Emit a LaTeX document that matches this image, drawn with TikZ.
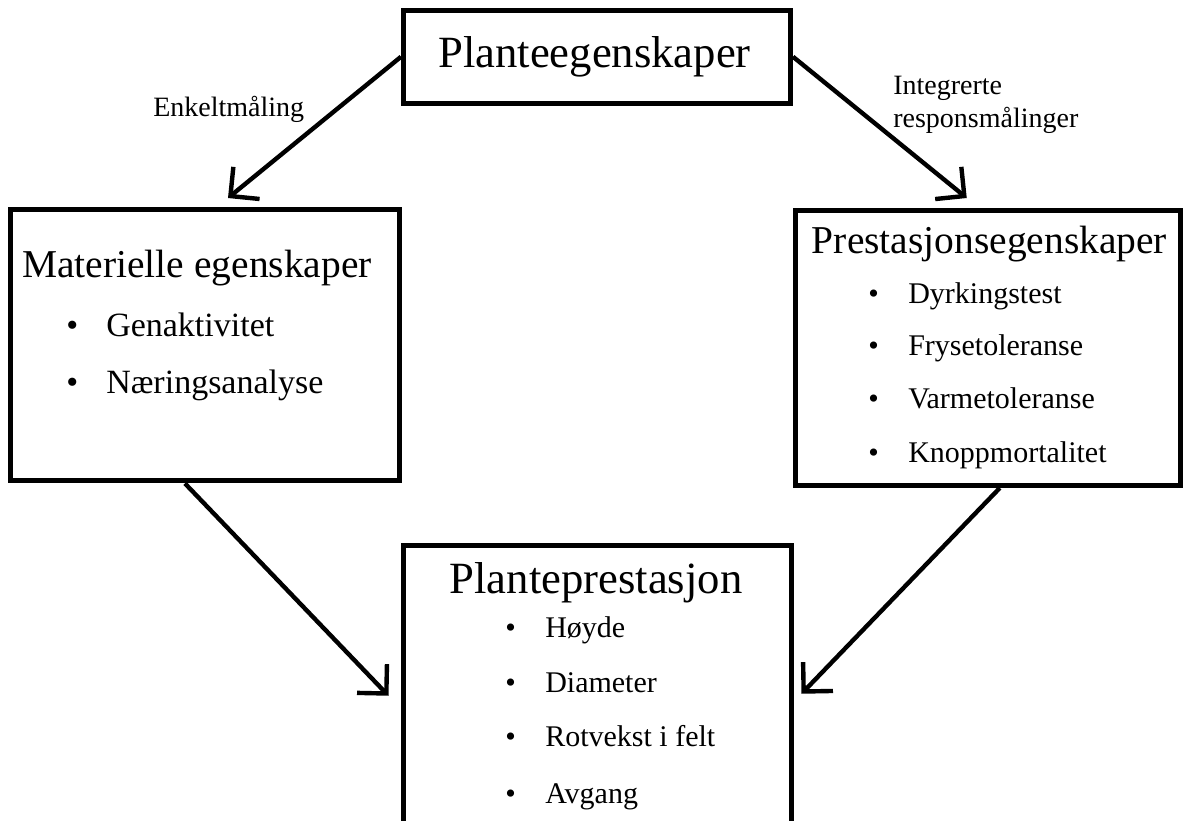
\documentclass[tikz,border=0pt]{standalone}
\usepackage{fontspec}
\setmainfont{Liberation Serif}
\usetikzlibrary{arrows.meta}

\newcommand{\bpt}[1]{\makebox[30pt][l]{\textbullet}#1}

\begin{document}
\begin{tikzpicture}[x=0.75pt, y=-0.75pt,
    box/.style={draw, line width=3.75pt, inner sep=0pt},
    ttl/.style={anchor=base, inner sep=0pt, font=\fontsize{33.5}{38}\selectfont},
    sttl/.style={ttl, font=\fontsize{29.6}{34}\selectfont},
    itm/.style={anchor=base west, inner sep=0pt, font=\fontsize{22.5}{27}\selectfont},
    lbl/.style={anchor=base west, inner sep=0pt, align=left, font=\fontsize{21}{24.5}\selectfont},
    link/.style={line width=3.3pt, -{Straight Barb[sharp, angle=90:22pt]}}]
  \useasboundingbox (0,0) rectangle (1183,821);
  \clip (0,0) rectangle (1183,821);

  \node[box, minimum width=290.25pt, minimum height=70.1pt] (top) at (597,56.75) {};
  \node[box, minimum width=291.5pt, minimum height=203.6pt] (mat) at (205,345.25) {};
  \node[box, minimum width=288.4pt, minimum height=206.25pt] (pres) at (987.75,348) {};
  \node[box, minimum width=291pt, minimum height=228.4pt] (perf) at (597,697.75) {};

  \node[ttl] (topt) at (594.5,67) {Planteegenskaper};
  \node[sttl] (matt) at (197,277) {Materielle egenskaper};
  \node[sttl] (prest) at (989.5,253) {Prestasjonsegenskaper};
  \node[ttl] (perft) at (596,593) {Planteprestasjon};

  \node[itm, font=\fontsize{25.5}{30}\selectfont] (mat1) at (66,336) {\bpt{Genaktivitet}};
  \node[itm, font=\fontsize{25.5}{30}\selectfont] (mat2) at (66,393) {\bpt{Næringsanalyse}};

  \node[itm] (pres1) at (868,303) {\bpt{Dyrkingstest}};
  \node[itm] (pres2) at (868,355) {\bpt{Frysetoleranse}};
  \node[itm] (pres3) at (868,408) {\bpt{Varmetoleranse}};
  \node[itm] (pres4) at (868,462) {\bpt{Knoppmortalitet}};

  \node[itm] (perf1) at (505,637) {\bpt{Høyde}};
  \node[itm] (perf2) at (505,692) {\bpt{Diameter}};
  \node[itm] (perf3) at (505,746) {\bpt{Rotvekst i felt}};
  \node[itm] (perf4) at (505,803) {\bpt{Avgang}};

  \node[lbl] (single) at (153,116) {Enkeltmåling};
  \node[lbl] (integ) at (893,127) {Integrerte\\responsmålinger};

  \draw[link] (top.west) -- ([shift={(23,-9)}]mat.north);
  \draw[link] (top.east) -- ([shift={(-21,-10)}]pres.north);
  \draw[link] ([shift={(-20,0)}]mat.south) -- ([shift={(-12,-2)}]perf.west);
  \draw[link] ([shift={(12,0)}]pres.south) -- ([shift={(8,-4)}]perf.east);
\end{tikzpicture}
\end{document}
